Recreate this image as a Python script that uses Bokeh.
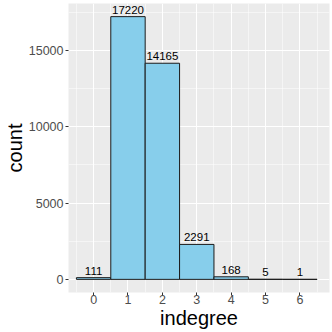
from bokeh.plotting import figure
from bokeh.models import ColumnDataSource, FixedTicker, Range1d, LabelSet
from bokeh.core.properties import value
from bokeh.embed import file_html
from bokeh.resources import INLINE

indegree = [0, 1, 2, 3, 4, 5, 6]
counts = [111, 17220, 14165, 2291, 168, 5, 1]
labels = [str(c) for c in counts]
x_ticks = [0, 1, 2, 3, 4, 5, 6]
x_minor = [-0.5, 0.5, 1.5, 2.5, 3.5, 4.5, 5.5, 6.5]
y_ticks = [0, 5000, 10000, 15000]
y_minor = [2500, 7500, 12500, 17500]

src = ColumnDataSource(dict(x=indegree, top=counts, label=labels))

FONT = "Liberation Sans"

p = figure(width=332, height=332, output_backend="svg", toolbar_location=None,
           x_range=Range1d(-0.73, 6.86), y_range=Range1d(-861, 18081),
           min_border_left=64, min_border_right=3, min_border_top=3,
           min_border_bottom=40)
p.background_fill_color = "#EBEBEB"
p.border_fill_color = "white"
p.outline_line_color = None

p.vbar(x="x", top="top", bottom=0, width=1, source=src,
       fill_color="#87CEEB", line_color="#1a1a1a", line_width=1)

lbl = LabelSet(x="x", y="top", text="label", source=src, text_align="center",
               text_baseline="bottom", y_offset=3, text_font=value(FONT),
               text_font_size="11.5px", text_color="black")
p.add_layout(lbl)

for ax, ticks, minor in ((p.xaxis[0], x_ticks, x_minor), (p.yaxis[0], y_ticks, y_minor)):
    ax.ticker = FixedTicker(ticks=ticks, minor_ticks=minor)
    ax.axis_line_color = None
    ax.major_tick_line_color = "#333333"
    ax.major_tick_out = 3
    ax.major_tick_in = 0
    ax.minor_tick_line_color = None
    ax.major_label_text_font = FONT
    ax.major_label_text_font_size = "12.5px"
    ax.major_label_text_color = "#4D4D4D"
    ax.axis_label_text_font = FONT
    ax.axis_label_text_font_size = "20px"
    ax.axis_label_text_font_style = "normal"
    ax.axis_label_text_color = "black"

p.xaxis.major_label_standoff = -2
p.xaxis.axis_label_standoff = 0
p.yaxis.major_label_standoff = 1
p.yaxis.axis_label_standoff = 0

p.xaxis.axis_label = "indegree"
p.yaxis.axis_label = "count"

for g in (p.xgrid[0], p.ygrid[0]):
    g.grid_line_color = "white"
    g.grid_line_width = 1.1
    g.minor_grid_line_color = "white"
    g.minor_grid_line_width = 0.5
p.xgrid.ticker = FixedTicker(ticks=x_ticks, minor_ticks=x_minor)
p.ygrid.ticker = FixedTicker(ticks=y_ticks, minor_ticks=y_minor)

open("out.html", "w").write(file_html(p, INLINE))
